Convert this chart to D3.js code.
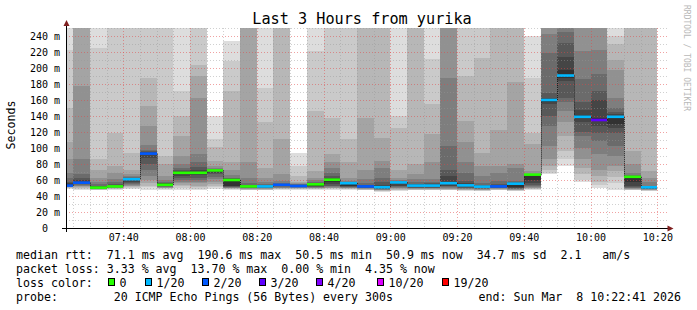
<!DOCTYPE html>
<html>
<head>
<meta charset="utf-8">
<script src="https://cdn.jsdelivr.net/npm/d3@7"></script>
<style>
  body { margin: 0; background: #fff; }
  svg { display: block; font-family: "DejaVu Sans Mono", monospace; }
  .pre { white-space: pre; }
</style>
</head>
<body>
<svg id="chart" width="697" height="310"></svg>
<script>
// 5 minute bins (end time of each bin), last 3 hours
var binEnd = ["07:25", "07:30", "07:35", "07:40", "07:45", "07:50", "07:55", "08:00", "08:05", "08:10",
  "08:15", "08:20", "08:25", "08:30", "08:35", "08:40", "08:45", "08:50", "08:55", "09:00",
  "09:05", "09:10", "09:15", "09:20", "09:25", "09:30", "09:35", "09:40", "09:45", "09:50",
  "09:55", "10:00", "10:05", "10:10", "10:15", "10:20"];

var medianMs = [53, 56.7, 50.5, 52, 61, 93, 54, 69, 69, 72,
  60, 52, 52, 54, 52.5, 54.6, 60.4, 56, 52, 51,
  57, 53, 53, 56, 53.3, 51.7, 52, 55.4, 66.7, 160,
  190.6, 139, 135, 139, 64, 50.9];

// lost pings out of 20
var lossOf20 = [2, 2, 0, 0, 1, 2, 0, 0, 0, 0,
  0, 0, 1, 2, 2, 0, 0, 1, 2, 1,
  1, 1, 1, 1, 1, 1, 2, 1, 0, 1,
  1, 1, 3, 1, 0, 1];

// 20 sorted ping rtts per bin (ms), values over 250 run off the top
var pingMs = [
  [49, 50, 50.5, 51, 51.5, 52, 52.5, 53, 53.5, 54, 55, 56, 58, 62, 69, 86, 107, 150, 222, 260],
  [48, 49, 50, 51, 52, 53, 54, 55, 55.5, 56, 58, 60, 62, 68, 86, 177, 260, 270, 280, 290],
  [47, 47.5, 48, 48.5, 48.8, 49, 49.2, 49.4, 49.6, 50, 51, 52, 53, 55, 58, 63, 73, 86, 225, 260],
  [48, 48.5, 49, 49.5, 50, 50.5, 51, 51.3, 51.6, 52, 53, 54, 55, 57, 61, 69, 77, 119, 255, 265],
  [49, 50, 51, 52, 53, 54, 55, 56, 58, 60.5, 62, 62.5, 63, 64, 65, 67, 73, 94, 255, 265],
  [48, 51, 53, 56, 60, 65, 73, 80, 88, 92, 94, 95, 96, 98, 104, 127, 152, 188, 255, 265],
  [48, 49, 49.5, 50, 50.5, 51, 51.5, 52, 52.5, 53.5, 55, 56, 56.5, 57.5, 60, 65, 80, 90, 255, 265],
  [48, 50, 52, 54, 56, 58, 60, 62, 65, 68.5, 70, 71, 72, 75, 80, 90, 115, 140, 171, 260],
  [48, 49, 51, 53, 56, 58, 60, 63, 66, 68.5, 70, 72, 76, 83, 92, 163, 190, 204, 260, 270],
  [49, 51, 53, 55, 58, 61, 64, 67, 69, 71.5, 72.5, 73, 73.5, 74, 75, 78, 84, 101, 111, 140],
  [48, 48.5, 49, 49.5, 50, 50.5, 51, 51.5, 52, 53, 60.5, 61, 62, 63, 66, 73, 82, 171, 209, 234],
  [47, 47.5, 48, 48.5, 49, 49.5, 50, 50.5, 51, 51.5, 52.5, 53, 54, 56, 63, 82, 260, 265, 270, 280],
  [47, 47.5, 48, 48.5, 49, 49.5, 50, 50.5, 51, 51.5, 52.5, 53, 54, 55, 57, 63, 75, 132, 175, 260],
  [48, 48.5, 49, 49.5, 50, 50.5, 51, 52, 52.5, 53.5, 54.5, 55, 55.5, 56, 59, 67, 111, 260, 265, 270],
  [48, 48.5, 49, 49.5, 50, 50.5, 51, 51.5, 52, 52.5, 53, 53.5, 54, 54.5, 55, 56, 58, 65, 77, 94],
  [48, 48.5, 49, 49.5, 50, 50.5, 51, 51.5, 52, 53, 55, 55.5, 56, 57, 60, 63, 71, 146, 221, 260],
  [48, 49, 49.5, 50, 50.5, 51, 52, 53, 55, 58, 61, 63, 65, 69, 75, 82, 92, 138, 255, 262],
  [48, 48.5, 49, 49.5, 50, 50.5, 51, 51.5, 52, 53, 56.5, 57, 57.5, 58, 59, 63, 82, 111, 255, 265],
  [47, 47.5, 48, 48.5, 49, 49.5, 50, 50.5, 51, 51.5, 53, 53.5, 54, 56, 61, 73, 138, 255, 262, 270],
  [45, 46, 46.5, 47, 47.5, 48, 48.5, 49, 49.5, 50, 52, 54, 57, 63, 75, 84, 113, 255, 262, 270],
  [46, 47, 48, 49, 49.5, 50, 51, 52, 53, 56, 57.5, 58, 58.5, 59, 60, 63, 73, 125, 140, 260],
  [47, 47.5, 48, 48.5, 49, 49.5, 50, 50.5, 51, 52, 54, 54.5, 55.5, 57, 61, 67, 80, 255, 262, 270],
  [47, 47.5, 48, 48.5, 49, 49.5, 50, 50.5, 51, 52, 54, 55, 56, 57, 61, 82, 117, 155, 211, 262],
  [47, 47.5, 48, 48.5, 49, 50, 51, 52, 53, 56, 58, 65, 73, 102, 188, 255, 260, 265, 270, 280],
  [46, 47, 47.5, 48, 48.5, 49, 49.5, 50, 51, 52, 54.5, 56, 59, 69, 82, 107, 134, 190, 255, 265],
  [46, 46.5, 47, 47.5, 48, 48.5, 49, 49.5, 50, 51, 52.3, 53, 54, 56, 65, 77.5, 94, 213, 255, 265],
  [47, 47.5, 48, 48.5, 49, 49.5, 50, 50.5, 51, 51.5, 52.5, 53.5, 55, 59, 69, 77.5, 123, 255, 262, 270],
  [46, 46.5, 47, 47.5, 48, 48.5, 49, 49.5, 50, 51, 56, 56.5, 57, 59, 75, 80, 182, 255, 262, 270],
  [48, 48.5, 49, 49.5, 50, 51, 52, 54, 56, 60, 66.8, 67, 67.2, 67.5, 68, 71, 105, 119, 188, 240],
  [68, 69, 73, 77, 86, 102, 128, 140, 155, 158, 161, 162, 169, 219, 242, 255, 260, 265, 270, 280],
  [77, 86, 96, 115, 132, 146, 157, 163, 184, 188, 197, 214, 231, 245, 256, 260, 265, 270, 275, 280],
  [57, 60, 68, 75, 86, 100, 115, 120, 132, 138, 141, 148, 157, 186, 221, 255, 260, 265, 270, 280],
  [50, 54, 58, 65, 73, 92, 109, 119, 128, 134, 137, 160, 171, 192, 223, 255, 260, 265, 270, 280],
  [48, 56, 64, 71, 78, 90, 102, 119, 125, 130, 140, 142, 145, 150, 162, 197, 210, 230, 240, 260],
  [47, 47.5, 48, 48.5, 49, 49.5, 50, 51, 53, 57, 64.2, 64.5, 65, 66, 69, 80, 96, 255, 262, 270],
  [46, 46.5, 47, 47.5, 48, 48.5, 49, 49.2, 49.5, 49.8, 51, 51.5, 52, 53, 57, 63, 71, 255, 262, 270]
];

var yTickMs = [0, 20, 40, 60, 80, 100, 120, 140, 160, 180, 200, 220, 240];
var xTickTime = ["07:40", "08:00", "08:20", "08:40", "09:00", "09:20", "09:40", "10:00", "10:20"];

var lossLabels = ["0", "1/20", "2/20", "3/20", "4/20", "10/20", "19/20"];
var lossUpper = [0, 1, 2, 3, 4, 10, 19];
var lossColors = ["#26ff00", "#00b8ff", "#0059ff", "#5e00ff", "#7e00ff", "#dd00ff", "#ff0000"];

// smoke shades, outermost pair first
var smokeGrey = ["#dddddd", "#cacaca", "#b7b7b7", "#a4a4a4", "#919191",
  "#7e7e7e", "#6b6b6b", "#585858", "#454545", "#323232"];

var statLines = [
  "median rtt:  71.1 ms avg  190.6 ms max  50.5 ms min  50.9 ms now  34.7 ms sd  2.1   am/s",
  "packet loss: 3.33 % avg  13.70 % max  0.00 % min  4.35 % now"
];

var plot = { left: 65.5, right: 666.3, top: 28, bottom: 228 };
var stepSec = 300;

drawChart();

function lossColor(n) {
  for (var i = 0; i < lossUpper.length; i++) {
    if (n <= lossUpper[i]) return lossColors[i];
  }
  return lossColors[lossColors.length - 1];
}

function drawChart() {
  var parseHMS = d3.timeParse("%H:%M:%S");
  var parseHM = d3.timeParse("%H:%M");
  var startTime = parseHMS("07:22:41");
  var endTime = parseHMS("10:22:41");

  var svg = d3.select("#chart");

  var xScale = d3.scaleTime()
    .domain([startTime, endTime])
    .range([plot.left, plot.right]);

  var yScale = d3.scaleLinear()
    .domain([0, 250])
    .range([plot.bottom, plot.top])
    .clamp(true);

  var bins = binEnd.map(function (t, i) {
    var end = parseHM(t);
    var start = new Date(Math.max(+startTime, end - stepSec * 1000));
    return {
      x0: Math.round(xScale(start)),
      x1: Math.round(xScale(end)),
      pings: pingMs[i],
      median: medianMs[i],
      loss: lossOf20[i]
    };
  });

  // smoke
  var smoke = svg.append("g").attr("shape-rendering", "crispEdges");
  bins.forEach(function (b) {
    for (var j = 0; j < 10; j++) {
      var lo = b.pings[j];
      var hi = b.pings[19 - j];
      smoke.append("rect")
        .attr("x", b.x0)
        .attr("width", b.x1 - b.x0)
        .attr("y", Math.round(yScale(hi)))
        .attr("height", Math.round(yScale(lo)) - Math.round(yScale(hi)))
        .attr("fill", smokeGrey[j]);
    }
  });

  // grid, drawn over the smoke like rrdtool does
  var grid = svg.append("g").attr("shape-rendering", "crispEdges");
  d3.range(10, 251, 10).forEach(function (v) {
    var major = v % 20 === 0;
    grid.append("line")
      .attr("x1", 66).attr("x2", 667)
      .attr("y1", Math.round(yScale(v)) + 0.5).attr("y2", Math.round(yScale(v)) + 0.5)
      .attr("stroke", major ? "rgba(225,70,70,0.5)" : "rgba(150,150,150,0.45)")
      .attr("stroke-dasharray", "1,2");
  });
  var gridTimes = d3.timeMinute.every(5).range(startTime, endTime);
  gridTimes.forEach(function (t) {
    var major = t.getMinutes() % 20 === 0;
    var gx = Math.round(xScale(t)) + 0.5;
    grid.append("line")
      .attr("x1", gx).attr("x2", gx)
      .attr("y1", plot.top).attr("y2", plot.bottom)
      .attr("stroke", major ? "rgba(225,70,70,0.5)" : "rgba(150,150,150,0.45)")
      .attr("stroke-dasharray", "1,2");
  });

  // median line: dotted risers between bins
  var med = svg.append("g");
  bins.forEach(function (b, i) {
    if (i === 0) return;
    var prev = bins[i - 1];
    med.append("line")
      .attr("x1", b.x0 + 0.5).attr("x2", b.x0 + 0.5)
      .attr("y1", yScale(prev.median)).attr("y2", yScale(b.median))
      .attr("stroke", "#202020")
      .attr("stroke-dasharray", "1,1");
  });
  med.selectAll("rect.median")
    .data(bins)
    .enter().append("rect")
    .attr("class", "median")
    .attr("x", function (d) { return d.x0; })
    .attr("width", function (d) { return d.x1 - d.x0; })
    .attr("y", function (d) { return yScale(d.median) - 1.3; })
    .attr("height", 2.6)
    .attr("fill", function (d) { return lossColor(d.loss); });

  // axes
  var yAxis = d3.axisLeft(yScale)
    .tickValues(yTickMs)
    .tickSize(0)
    .tickPadding(6)
    .tickFormat(function (d) { return d === 0 ? "0\u00a0\u00a0" : d + " m"; });

  svg.append("g")
    .attr("transform", "translate(66,0)")
    .call(yAxis)
    .call(function (g) { g.select(".domain").remove(); })
    .selectAll("text")
    .attr("class", "pre")
    .style("font-family", "DejaVu Sans Mono")
    .style("font-size", "10px")
    .attr("fill", "#000");

  var xAxis = d3.axisBottom(xScale)
    .tickValues(xTickTime.map(parseHM))
    .tickSize(0)
    .tickPadding(6)
    .tickFormat(d3.timeFormat("%H:%M"));

  svg.append("g")
    .attr("transform", "translate(0,228)")
    .call(xAxis)
    .call(function (g) { g.select(".domain").remove(); })
    .selectAll("text")
    .style("font-family", "DejaVu Sans Mono")
    .style("font-size", "10px")
    .attr("fill", "#000");

  var axisG = svg.append("g").attr("shape-rendering", "crispEdges");
  axisG.append("line")
    .attr("x1", 62).attr("x2", 669)
    .attr("y1", 228.5).attr("y2", 228.5)
    .attr("stroke", "#000");
  axisG.append("line")
    .attr("x1", 66.5).attr("x2", 66.5)
    .attr("y1", 232).attr("y2", 24)
    .attr("stroke", "#000");

  svg.append("path")
    .attr("d", "M63.5,26 L66.5,20 L69.5,26 Z")
    .attr("fill", "#7f1f1f");
  svg.append("path")
    .attr("d", "M667.5,225.5 L673.5,228.5 L667.5,231.5 Z")
    .attr("fill", "#7f1f1f");

  // title and side labels
  svg.append("text")
    .attr("x", 362)
    .attr("y", 23.5)
    .style("text-anchor", "middle")
    .style("font-size", "15.2px")
    .text("Last 3 Hours from yurika");

  svg.append("text")
    .attr("transform", "translate(14.5,125) rotate(-90)")
    .style("text-anchor", "middle")
    .style("font-size", "11.6px")
    .text("Seconds");

  svg.append("text")
    .attr("transform", "translate(684,5) rotate(90)")
    .style("font-size", "8px")
    .attr("fill", "#b8b8b8")
    .text("RRDTOOL / TOBI OETIKER");

  // legend
  var legend = svg.append("g").style("font-size", "11.6px");
  statLines.forEach(function (s, i) {
    legend.append("text")
      .attr("class", "pre")
      .attr("x", 16)
      .attr("y", 258.5 + i * 14)
      .text(s);
  });

  legend.append("text")
    .attr("class", "pre")
    .attr("x", 16)
    .attr("y", 286.5)
    .text("loss color:");

  var boxX = [108.5, 145.5, 202.5, 259.5, 316.5, 377.5, 442.5];
  lossLabels.forEach(function (lbl, i) {
    legend.append("rect")
      .attr("x", boxX[i])
      .attr("y", 278.5)
      .attr("width", 6)
      .attr("height", 7)
      .attr("fill", lossColors[i])
      .attr("stroke", "#000");
    legend.append("text")
      .attr("x", boxX[i] + 11)
      .attr("y", 286.5)
      .text(lbl);
  });

  legend.append("text")
    .attr("class", "pre")
    .attr("x", 16)
    .attr("y", 300.5)
    .text("probe:        20 ICMP Echo Pings (56 Bytes) every 300s");

  legend.append("text")
    .attr("class", "pre")
    .attr("x", 681)
    .attr("y", 300.5)
    .style("text-anchor", "end")
    .text("end: Sun Mar  8 10:22:41 2026");
}
</script>
</body>
</html>
